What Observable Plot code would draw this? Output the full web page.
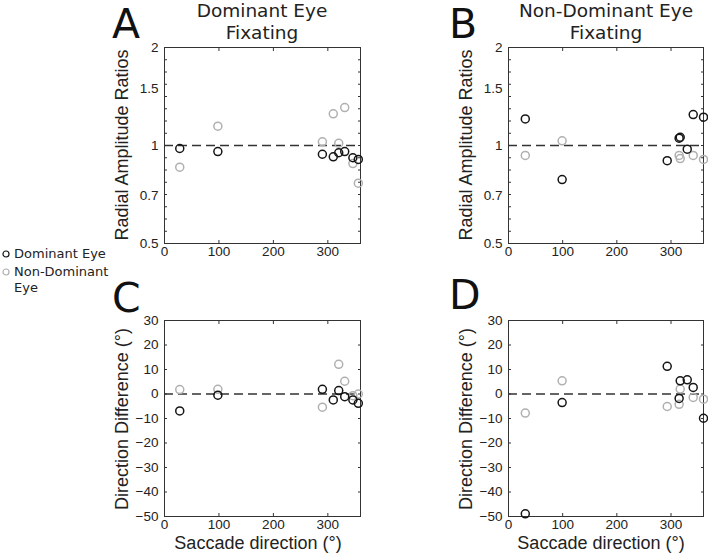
<!DOCTYPE html>
<html><head><meta charset="utf-8">
<script src="https://cdn.jsdelivr.net/npm/d3@7"></script>
<script src="https://cdn.jsdelivr.net/npm/@observablehq/plot@0.6"></script>
<style>
body{margin:0;background:#fff;}
#fig{position:relative;width:708px;height:554px;overflow:hidden;font-family:"Liberation Sans",Arial,sans-serif;color:#222;}
.abs{position:absolute;white-space:nowrap;}
.panel{position:absolute;}
.letter{font-family:"DejaVu Sans";font-size:41px;line-height:36px;color:#111;}
.title{font-family:"DejaVu Sans";font-size:18.5px;line-height:21.5px;text-align:center;transform:translateX(-50%);color:#222;}
.ylab{font-size:18px;line-height:18px;transform:translate(-50%,-50%) rotate(-90deg);}
.xlab{font-size:18px;line-height:16px;transform:translateX(-50%);}
.leg{position:absolute;font-family:"DejaVu Sans";font-size:13px;line-height:16px;width:100px;color:#222;}
.leg svg{position:absolute;}
</style></head><body><div id="fig"></div>
<script>
// ---- data ----
const xTicks = [0, 100, 200, 300];
const ampTicks = [0.5, 0.7, 1, 1.5, 2];
const diffTicks = [-50, -40, -30, -20, -10, 0, 10, 20, 30];

// Dominant Eye Fixating (panels A, C)
const dirDEF = [28, 98, 290, 310, 320, 331, 346, 356];
const ampDEF_dom = [0.979, 0.958, 0.940, 0.923, 0.950, 0.958, 0.917, 0.906];
const ampDEF_nd  = [0.858, 1.146, 1.026, 1.251, 1.016, 1.308, 0.880, 0.766];
const difDEF_dom = [-6.9, -0.5, 1.9, -2.4, 1.4, -1.1, -2.4, -3.8];
const difDEF_nd  = [1.8, 1.9, -5.4, null, 12.1, 5.2, -0.7, 0.0];

// Non-Dominant Eye Fixating (panels B, D)
const dirNDF = [31, 99, 293, 315, 317, 330, 341, 360];
const ampNDF_dom = [1.207, 0.786, 0.898, 1.053, 1.060, 0.974, 1.245, 1.222];
const ampNDF_nd  = [0.932, 1.034, null, 0.932, 0.912, null, 0.932, 0.906];
const difNDF_dom = [-48.9, -3.5, 11.3, -1.8, 5.4, 5.8, 2.7, -9.9];
const difNDF_nd  = [-7.8, 5.4, -5.1, -4.2, 2.0, null, -1.4, -2.1];

const colDom = "#151515";
const colNd = "#b0b0b0";

const fig = document.getElementById("fig");

function rows(dirs, vals) {
  return dirs.map((d, i) => ({dir: d, v: vals[i]})).filter(r => r.v != null);
}

function panel(o) {
  const log = o.log;
  const yMinor = log ? d3.range(-8, 9).map(k => Math.pow(2, k / 8)) : diffTicks;
  const fmt = log ? d3.format("~g") : d3.format("d");
  const chart = Plot.plot({
    width: o.width, height: o.height,
    marginLeft: o.ml, marginRight: o.mr, marginTop: o.mt, marginBottom: o.mb,
    style: {fontFamily: "Liberation Sans, Arial, sans-serif", fontSize: "13.5px", color: "#222", background: "transparent", overflow: "visible"},
    x: {domain: [0, 360]},
    y: log ? {type: "log", domain: [0.5, 2]} : {domain: [-50, 30]},
    marks: [
      Plot.ruleY([log ? 1 : 0], {stroke: "#333", strokeWidth: 1.4, strokeDasharray: "9,5"}),
      Plot.frame({stroke: "#333", strokeWidth: 1}),
      Plot.axisX({ticks: xTicks, anchor: "bottom", tickSize: 0, tickPadding: 3, label: null, fontSize: 13.5, tickFormat: d3.format("d")}),
      Plot.axisX({ticks: xTicks, anchor: "bottom", tickSize: -3, tickFormat: () => "", label: null, stroke: "#333"}),
      Plot.axisX({ticks: xTicks, anchor: "top", tickSize: -3, tickFormat: () => "", label: null, stroke: "#333"}),
      Plot.axisY({ticks: log ? ampTicks : diffTicks, anchor: "left", tickSize: 0, tickPadding: 6, label: null, fontSize: 13.5, tickFormat: fmt}),
      Plot.axisY({ticks: yMinor, anchor: "left", tickSize: -3, tickFormat: () => "", label: null, stroke: "#333"}),
      Plot.axisY({ticks: yMinor, anchor: "right", tickSize: -3, tickFormat: () => "", label: null, stroke: "#333"}),
      Plot.dot(rows(o.dirs, o.nd), {x: "dir", y: "v", r: 4, stroke: colNd, strokeWidth: 1.5}),
      Plot.dot(rows(o.dirs, o.dom), {x: "dir", y: "v", r: 4, stroke: colDom, strokeWidth: 1.5})
    ]
  });
  const wrap = document.createElement("div");
  wrap.className = "panel";
  wrap.style.left = o.left + "px";
  wrap.style.top = o.top + "px";
  wrap.appendChild(chart);
  fig.appendChild(wrap);
}

panel({log: true, dirs: dirDEF, dom: ampDEF_dom, nd: ampDEF_nd, left: 100, top: 30, width: 270, height: 235, ml: 64, mr: 10, mt: 17, mb: 22});
panel({log: true, dirs: dirNDF, dom: ampNDF_dom, nd: ampNDF_nd, left: 450, top: 30, width: 258, height: 235, ml: 58, mr: 5, mt: 17, mb: 22});
panel({log: false, dirs: dirDEF, dom: difDEF_dom, nd: difDEF_nd, left: 100, top: 300, width: 270, height: 240, ml: 64, mr: 10, mt: 20, mb: 24});
panel({log: false, dirs: dirNDF, dom: difNDF_dom, nd: difNDF_nd, left: 450, top: 300, width: 258, height: 240, ml: 58, mr: 5, mt: 20, mb: 24});

function addText(cls, text, styles) {
  const d = document.createElement("div");
  d.className = "abs " + cls;
  d.innerHTML = text;
  Object.assign(d.style, styles);
  fig.appendChild(d);
}
// panel letters
addText("letter", "A", {left: "112px", top: "6px"});
addText("letter", "B", {left: "449px", top: "6px"});
addText("letter", "C", {left: "112px", top: "280px"});
addText("letter", "D", {left: "449px", top: "277px"});
// titles
addText("title", "Dominant Eye<br>Fixating", {left: "262px", top: "0px"});
addText("title", "Non-Dominant Eye<br>Fixating", {left: "606px", top: "0px"});
// axis labels
addText("ylab", "Radial Amplitude Ratios", {left: "122px", top: "145px"});
addText("ylab", "Radial Amplitude Ratios", {left: "466px", top: "145px"});
addText("ylab", "Direction Difference (°)", {left: "122px", top: "419px"});
addText("ylab", "Direction Difference (°)", {left: "466px", top: "419px"});
addText("xlab", "Saccade direction (°)", {left: "258px", top: "535px"});
addText("xlab", "Saccade direction (°)", {left: "601px", top: "535px"});

// legend
const legItems = [
  {label: "Dominant Eye", color: colDom, top: 245.5},
  {label: "Non-Dominant Eye", color: colNd, top: 264.2}
];
legItems.forEach(it => {
  const d = document.createElement("div");
  d.className = "leg";
  d.style.left = "14px";
  d.style.top = it.top + "px";
  d.innerHTML = `<svg width="10" height="10" style="left:-13px;top:3px"><circle cx="5" cy="5" r="3" fill="none" stroke="${it.color}" stroke-width="1.2"/></svg>${it.label}`;
  fig.appendChild(d);
});
</script>
</body></html>
